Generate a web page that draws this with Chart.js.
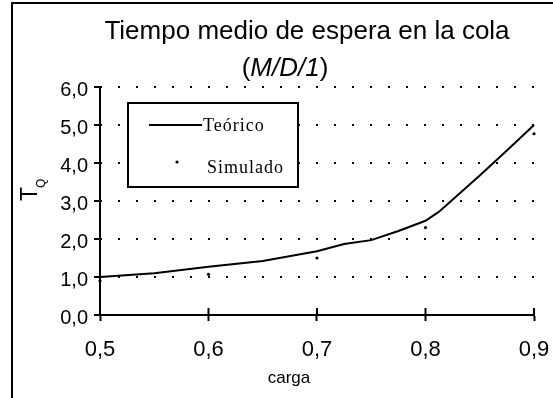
<!DOCTYPE html>
<html>
<head>
<meta charset="utf-8">
<script src="https://cdn.jsdelivr.net/npm/chart.js@4"></script>
<style>
  html, body { margin: 0; padding: 0; background: #fff; }
  #wrap { width: 553px; height: 398px; }
</style>
</head>
<body>
<div id="wrap"><canvas id="chart" width="553" height="398"></canvas></div>
<script>
// Datos
const cargaTeo = [0.5, 0.55, 0.6, 0.65, 0.7, 0.725, 0.75, 0.775, 0.8, 0.8125, 0.85, 0.875, 0.9];
const tqTeo = [1.0, 1.10, 1.27, 1.42, 1.68, 1.87, 1.97, 2.21, 2.48, 2.72, 3.67, 4.33, 5.0];
const cargaSim = [0.5, 0.6, 0.7, 0.8, 0.9];
const tqSim = [0.9, 1.07, 1.5, 2.3, 4.77];
const yTicks = [0, 1, 2, 3, 4, 5, 6];
const xTicks = [0.5, 0.6, 0.7, 0.8, 0.9];

const SANS = '"Liberation Sans", Arial, sans-serif';
const SERIF = '"Liberation Serif", "Times New Roman", serif';
const coma = v => v.toFixed(1).replace('.', ',');

// Titulo, leyenda, marco y rotulos de ejes
const decoracion = {
    id: 'decoracion',
    afterDraw(chart) {
        const ctx = chart.ctx;
        const xs = chart.scales.x;
        const ys = chart.scales.y;
        ctx.save();
        ctx.fillStyle = '#000';
        ctx.strokeStyle = '#000';

        // marco exterior
        ctx.lineWidth = 2;
        ctx.strokeRect(12, 3, 700, 600);

        // titulo
        ctx.textAlign = 'center';
        ctx.textBaseline = 'alphabetic';
        ctx.font = '26px ' + SANS;
        ctx.fillText('Tiempo medio de espera en la cola', 307, 39);

        // (M/D/1) con cursiva
        const parts = [['(', ''], ['M/D/1', 'italic '], [')', '']];
        let total = 0;
        parts.forEach(p => { ctx.font = p[1] + '26px ' + SANS; total += ctx.measureText(p[0]).width; });
        let px = 285 - total / 2;
        ctx.textAlign = 'left';
        parts.forEach(p => {
            ctx.font = p[1] + '26px ' + SANS;
            ctx.fillText(p[0], px, 76);
            px += ctx.measureText(p[0]).width;
        });

        // marcas interiores del eje x
        ctx.lineWidth = 2;
        xTicks.forEach(v => {
            const x = xs.getPixelForValue(v);
            ctx.beginPath();
            ctx.moveTo(x, ys.bottom - 7);
            ctx.lineTo(x, ys.bottom);
            ctx.stroke();
        });

        // rotulo eje x
        ctx.textAlign = 'center';
        ctx.font = '17px ' + SANS;
        ctx.fillText('carga', 289, 383);

        // rotulo eje y: T con subindice Q
        ctx.save();
        ctx.translate(37, 201);
        ctx.rotate(-Math.PI / 2);
        ctx.textAlign = 'left';
        ctx.font = '23px ' + SANS;
        ctx.fillText('T', 0, 0);
        const tw = ctx.measureText('T').width;
        ctx.font = '12px ' + SANS;
        ctx.fillText('Q', tw - 1, 8);
        ctx.restore();

        // leyenda
        ctx.fillStyle = '#fff';
        ctx.fillRect(128, 103, 170, 84);
        ctx.fillStyle = '#000';
        ctx.lineWidth = 2;
        ctx.strokeRect(128, 103, 170, 84);
        ctx.beginPath();
        ctx.moveTo(149, 125);
        ctx.lineTo(202, 125);
        ctx.stroke();
        ctx.beginPath();
        ctx.arc(177, 162, 1.6, 0, Math.PI * 2);
        ctx.fill();
        ctx.font = '18px ' + SERIF;
        ctx.textAlign = 'left';
        ctx.textBaseline = 'middle';
        if ('letterSpacing' in ctx) ctx.letterSpacing = '1px';
        ctx.fillText('Teórico', 203, 126);
        ctx.fillText('Simulado', 207, 168);
        ctx.restore();
    }
};

new Chart(document.getElementById('chart'), {
    type: 'scatter',
    data: {
        datasets: [
            {
                label: 'Teórico',
                data: cargaTeo.map((c, i) => ({ x: c, y: tqTeo[i] })),
                showLine: true,
                borderColor: '#000',
                borderWidth: 2,
                pointRadius: 0,
                tension: 0,
                clip: false
            },
            {
                label: 'Simulado',
                data: cargaSim.map((c, i) => ({ x: c, y: tqSim[i] })),
                showLine: false,
                backgroundColor: '#000',
                borderColor: '#000',
                pointRadius: 1.6,
                borderWidth: 0,
                clip: false
            }
        ]
    },
    options: {
        responsive: false,
        animation: false,
        layout: { padding: { top: 87, right: 19, left: 0, bottom: 0 } },
        plugins: {
            legend: { display: false },
            title: { display: false },
            tooltip: { enabled: false }
        },
        scales: {
            x: {
                type: 'linear',
                min: 0.5,
                max: 0.9,
                afterFit: s => { s.height = 83; s.paddingLeft = 0; s.paddingRight = 0; },
                afterBuildTicks: s => { s.ticks = xTicks.map(v => ({ value: v })); },
                ticks: {
                    color: '#000',
                    font: { family: SANS, size: 22 },
                    padding: 16,
                    maxRotation: 0,
                    callback: v => coma(v)
                },
                grid: {
                    drawOnChartArea: false,
                    drawTicks: true,
                    tickLength: 6,
                    tickColor: '#000',
                    tickWidth: 2
                },
                border: { display: true, color: '#000', width: 2 }
            },
            y: {
                min: 0,
                max: 6,
                afterFit: s => { s.width = 100; s.paddingTop = 0; s.paddingBottom = 0; },
                afterBuildTicks: s => { s.ticks = yTicks.map(v => ({ value: v })); },
                ticks: {
                    color: '#000',
                    font: { family: SANS, size: 20 },
                    padding: 6,
                    labelOffset: 3,
                    callback: v => coma(v)
                },
                grid: {
                    color: '#000',
                    lineWidth: 2,
                    drawTicks: true,
                    tickLength: 6,
                    tickColor: '#000',
                    tickWidth: 2,
                    tickBorderDash: []
                },
                border: { display: true, color: '#000', width: 2, dash: [2, 16], dashOffset: 1 }
            }
        }
    },
    plugins: [decoracion]
});
</script>
</body>
</html>
